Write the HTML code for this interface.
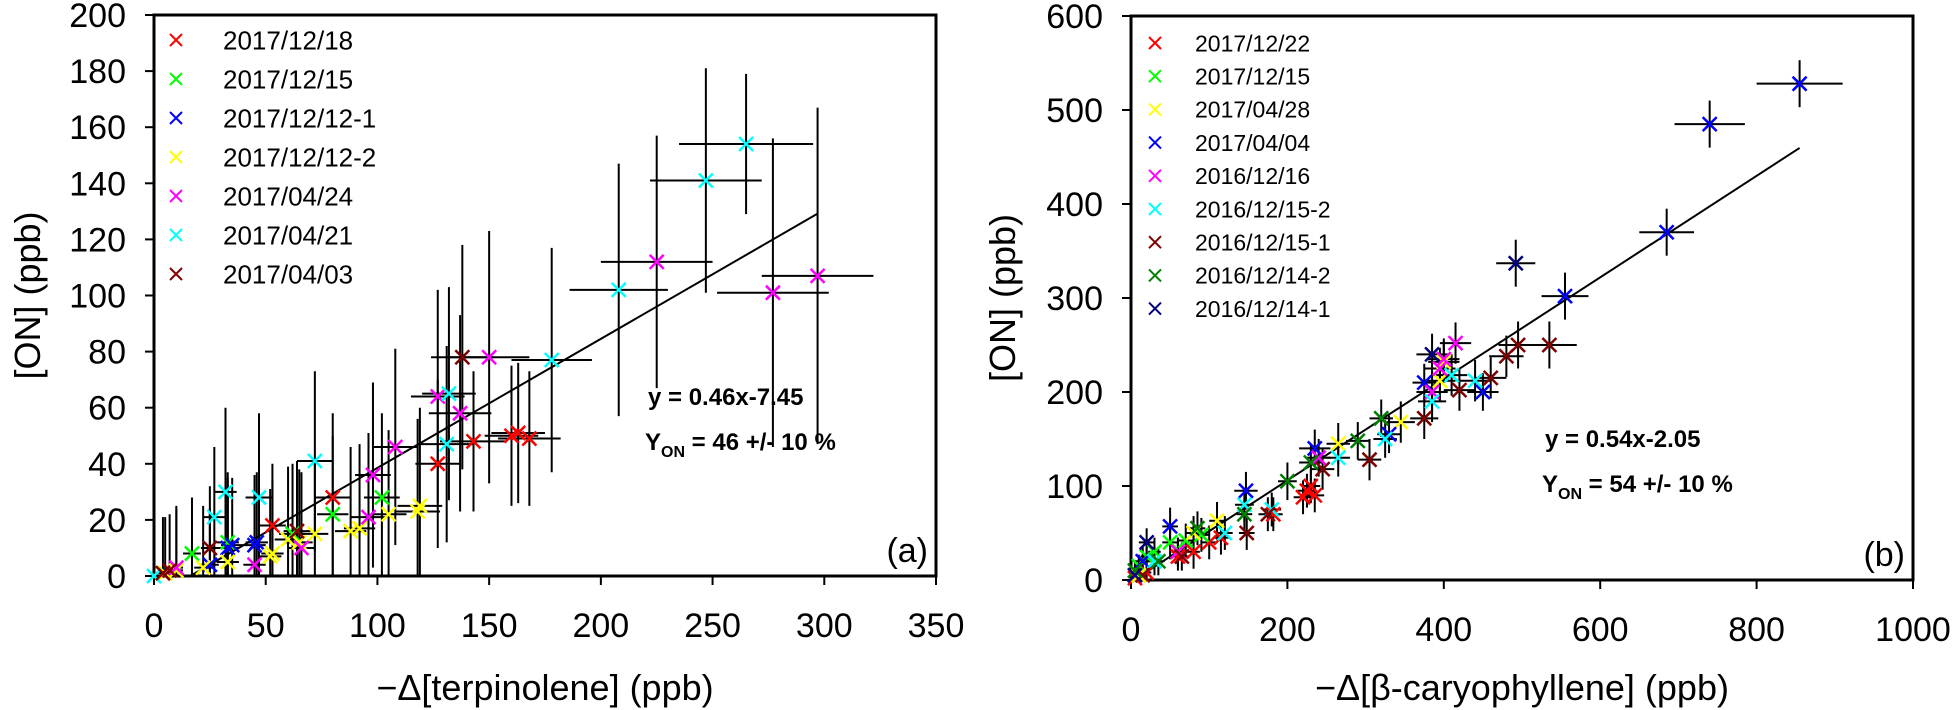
<!DOCTYPE html>
<html><head><meta charset="utf-8"><style>
html,body{margin:0;padding:0;background:#fff;}
svg{display:block;font-family:"Liberation Sans",Arial,sans-serif;}
</style></head><body>
<svg id="chart" width="1954" height="710" viewBox="0 0 1954 710">
<g id="pa"></g>
<g id="pb"></g>
</svg>
<script>
// ---- Panel (a) data: [x, y, xerr, yerr] ----
const aLabels = ["2017/12/18","2017/12/15","2017/12/12-1","2017/12/12-2","2017/04/24","2017/04/21","2017/04/03"];
const aColors = ["#ff0000","#00ff00","#0000ff","#ffff00","#ff00ff","#00ffff","#800000"];
const aRed = [[53,18,6,22],[80,28,8,30],[127,40,10,30],[143,48,15,25],[160,50,12,25],[163,51,12,25],[168,49,14,24]];
const aGreen = [[17,8,4,20],[33,12,5,25],[62,15,6,25],[80,22,7,28],[102,28,8,30]];
const aBlue = [[25,4,4,20],[33,10,5,25],[35,11,5,24],[45,11,5,25],[46,12,5,25]];
const aYellow = [[5,1,2,20],[10,2,3,22],[22,3,4,22],[33,5,5,24],[52,7,5,24],[53,8,5,26],[60,13,6,26],[65,12,6,26],[72,15,6,26],[88,16,7,30],[92,17,7,30],[105,22,8,30],[118,23,10,33],[119,25,10,35]];
const aMagenta = [[10,3,3,22],[45,4,5,22],[66,10,6,27],[96,21,8,30],[98,36,8,33],[108,46,10,35],[127,64,12,38],[137,58,14,35],[150,78,18,45],[225,112,25,45],[277,101,25,55],[297,107,25,60]];
const aCyan = [[0,0,2,20],[27,21,5,25],[32,30,5,30],[47,28,6,30],[72,41,8,32],[131,47,12,35],[132,65,12,38],[178,77,18,40],[208,102,22,45],[247,141,25,40],[265,154,30,25]];
const aBrown = [[4,1,2,20],[7,2,3,20],[25,10,4,22],[64,16,6,25],[138,78,14,40]];
const aXTicks = [0,50,100,150,200,250,300,350];
const aYTicks = [0,20,40,60,80,100,120,140,160,180,200];
const aFit = [0.46,-7.45,16,297];

// ---- Panel (b) data ----
const bLabels = ["2017/12/22","2017/12/15","2017/04/28","2017/04/04","2016/12/16","2016/12/15-2","2016/12/15-1","2016/12/14-2","2016/12/14-1"];
const bColors = ["#ff0000","#00ff00","#ffff00","#0000ff","#ff00ff","#00ffff","#800000","#008000","#000080"];
const bRed = [[225,95,12,18],[230,100,12,18],[235,90,12,18],[220,88,12,18],[182,70,12,18],[115,45,10,18],[100,40,10,18],[80,30,8,18],[60,25,8,15],[20,8,6,12],[10,5,5,10],[5,2,4,8]];
const bGreen = [[30,30,8,15],[50,40,10,18],[70,42,10,18],[90,48,10,18],[20,25,8,15],[10,15,6,12]];
const bYellow = [[400,232,20,22],[395,212,20,22],[345,168,18,22],[265,145,15,22],[110,63,10,20],[80,50,10,18],[60,30,8,15],[10,5,5,10]];
const bBlue = [[855,528,55,25],[740,485,45,25],[685,370,35,25],[555,302,30,25],[450,200,20,20],[375,210,15,20],[330,155,15,20],[235,140,20,20],[147,95,15,20],[50,57,10,20],[15,20,10,15]];
const bMagenta = [[415,252,20,22],[400,235,20,22],[395,225,20,22],[385,200,20,22],[240,130,15,20],[60,30,8,15]];
const bCyan = [[410,218,20,22],[440,212,20,22],[385,190,18,22],[325,150,15,20],[265,130,15,20],[180,75,12,18],[145,80,12,18],[120,50,10,18],[30,20,8,15]];
const bBrown = [[535,250,35,25],[495,250,25,25],[480,238,22,22],[460,215,20,22],[420,202,20,22],[375,172,18,22],[305,128,15,22],[245,118,15,22],[175,70,12,18],[148,50,10,18],[65,25,8,15],[15,5,5,10]];
const bDkGreen = [[320,172,15,20],[290,148,15,20],[230,125,15,20],[200,105,12,20],[145,70,10,18],[85,55,10,18],[35,20,8,15],[5,10,5,10]];
const bNavy = [[492,337,25,25],[385,240,20,22],[20,40,10,15],[5,5,5,10]];
const bXTicks = [0,200,400,600,800,1000];
const bYTicks = [0,100,200,300,400,500,600];
const bFit = [0.54,-2.05,5,855];

const NS="http://www.w3.org/2000/svg";
function mk(parent,tag,attrs,text){const e=document.createElementNS(NS,tag);for(const k in attrs)e.setAttribute(k,attrs[k]);if(text!==undefined)e.textContent=text;parent.appendChild(e);return e;}

function drawPanel(g,cfg){
  const {x0,x1,y0,y1,xmax,ymax}=cfg;
  const sx=v=>x0+(v/xmax)*(x1-x0);
  const sy=v=>y0-(v/ymax)*(y0-y1);
  // frame
  const fr=mk(g,"rect",{x:x0,y:y1,width:x1-x0,height:y0-y1,fill:"none",stroke:"#000","stroke-width":3});
  
  
  cfg.xt.forEach(t=>{
    const l=mk(g,"line",{x1:sx(t),x2:sx(t),y1:y0,y2:y0+9,stroke:"#000","stroke-width":2});
    
    
    const tx=mk(g,"text",{x:sx(t),y:y0+61,"text-anchor":"middle","font-size":34},String(t));
    
    
  });
  cfg.yt.forEach(t=>{
    const l=mk(g,"line",{x1:x0-9,x2:x0,y1:sy(t),y2:sy(t),stroke:"#000","stroke-width":2});
    
    
    const tx=mk(g,"text",{x:x0-28,y:sy(t)+12,"text-anchor":"end","font-size":34},String(t));
    
    
  });
  const xt=mk(g,"text",{x:(x0+x1)/2,y:700,"text-anchor":"middle","font-size":36},cfg.xtitle);
  
  
  const yt=mk(g,"text",{x:0,y:0,"text-anchor":"middle","font-size":36,transform:`translate(${cfg.ytx},${(y0+y1)/2}) rotate(-90)`},"[ON] (ppb)");
  
  
  // error bars
  cfg.series.forEach((s,i)=>{
    s.forEach(p=>{
      const [x,y,xe,ye]=p;
      const h=mk(g,"line",{x1:sx(Math.max(0,x-xe)),x2:sx(x+xe),y1:sy(y),y2:sy(y),stroke:"#000","stroke-width":2});
      
      
      const v=mk(g,"line",{x1:sx(x),x2:sx(x),y1:sy(Math.max(0,y-ye)),y2:sy(y+ye),stroke:"#000","stroke-width":2});
      
      
    });
  });
  // fit line
  const [m,b,fa,fb]=cfg.fit;
  const fl=mk(g,"line",{x1:sx(fa),y1:sy(m*fa+b),x2:sx(fb),y2:sy(m*fb+b),stroke:"#000","stroke-width":2});
  
  
  // markers
  const r=7;
  cfg.series.forEach((s,i)=>{
    s.forEach(p=>{
      const cx=sx(p[0]),cy=sy(p[1]);
      const mkp=mk(g,"path",{d:`M${cx-r},${cy-r}L${cx+r},${cy+r}M${cx-r},${cy+r}L${cx+r},${cy-r}`,stroke:cfg.colors[i],"stroke-width":2.5,fill:"none"});
      
      
    });
  });
  // legend
  cfg.labels.forEach((lab,i)=>{
    const ly=cfg.legY0+i*cfg.legDy;
    const lm=mk(g,"path",{d:`M${cfg.legMx-6},${ly-6}L${cfg.legMx+6},${ly+6}M${cfg.legMx-6},${ly+6}L${cfg.legMx+6},${ly-6}`,stroke:cfg.colors[i],"stroke-width":2,fill:"none"});
    
    
    const lt=mk(g,"text",{x:cfg.legTx,y:ly+cfg.legFs*0.36,"font-size":cfg.legFs},lab);
    
    
  });
  // annotations
  const e1=mk(g,"text",{x:cfg.annX,y:cfg.annY,"font-size":24,"font-weight":"bold"},cfg.eq);
  
  
  const e2=mk(g,"text",{x:cfg.annX-3,y:cfg.annY+45,"font-size":24,"font-weight":"bold"});
  
  
  mk(e2,"tspan",{},"Y");
  mk(e2,"tspan",{"font-size":16,dy:7},"ON");
  mk(e2,"tspan",{dy:-7}," = "+cfg.yld);
  const pl=mk(g,"text",{x:x1-8,y:y0-14,"text-anchor":"end","font-size":34},cfg.panel);
  
  
}

drawPanel(document.getElementById("pa"),{
  x0:154,x1:936,y0:576,y1:15,xmax:350,ymax:200,xt:aXTicks,yt:aYTicks,
  xtitle:"\u2212\u0394[terpinolene] (ppb)",ytx:40,
  series:[aRed,aGreen,aBlue,aYellow,aMagenta,aCyan,aBrown],colors:aColors,labels:aLabels,
  fit:aFit,legY0:40,legDy:39,legMx:176,legTx:223,legFs:26,
  annX:648,annY:405,eq:"y = 0.46x-7.45",yld:"46 +/- 10 %",panel:"(a)"
});
drawPanel(document.getElementById("pb"),{
  x0:1131,x1:1913,y0:580,y1:16,xmax:1000,ymax:600,xt:bXTicks,yt:bYTicks,
  xtitle:"\u2212\u0394[\u03b2-caryophyllene] (ppb)",ytx:1015,
  series:[bRed,bGreen,bYellow,bBlue,bMagenta,bCyan,bBrown,bDkGreen,bNavy],colors:bColors,labels:bLabels,
  fit:bFit,legY0:43,legDy:33.2,legMx:1155,legTx:1195,legFs:23,
  annX:1545,annY:447,eq:"y = 0.54x-2.05",yld:"54 +/- 10 %",panel:"(b)"
});
</script>
</body></html>
